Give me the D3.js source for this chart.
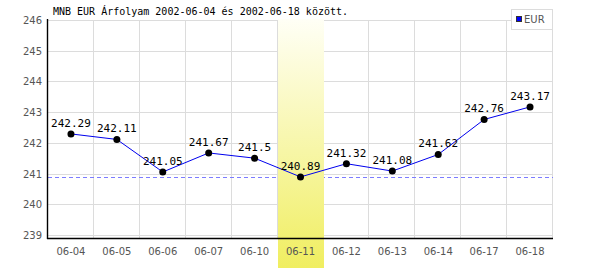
<!DOCTYPE html>
<html lang="hu">
  <head>
    <meta charset="UTF-8" />
    <title>MNB EUR Árfolyam</title>
    <script src="https://d3js.org/d3.v7.min.js"></script>
    <style>
      body {
        margin: 0;
        background: #fff;
      }
      #chart svg {
        display: block;
      }
      .tick-label {
        font-family: "DejaVu Sans", sans-serif;
        font-size: 10px;
        fill: #555;
      }
      .val-label {
        font-family: "DejaVu Sans Mono", monospace;
        font-size: 11px;
        fill: #000;
      }
      .title {
        font-family: "DejaVu Sans Mono", monospace;
        font-size: 10px;
        fill: #000;
      }
    </style>
  </head>
  <body>
    <div id="chart"></div>
    <script>
      // adatok
      const dates = ["06-04", "06-05", "06-06", "06-07", "06-10", "06-11", "06-12", "06-13", "06-14", "06-17", "06-18"];
      const rates = [242.29, 242.11, 241.05, 241.67, 241.5, 240.89, 241.32, 241.08, 241.62, 242.76, 243.17];
      const yTicks = [239, 240, 241, 242, 243, 244, 245, 246];
      const highlightDate = "06-11";
      const titleText = "MNB EUR Árfolyam 2002-06-04 és 2002-06-18 között.";
      const seriesName = "EUR";

      const width = 600,
        height = 270;
      const plotLeft = 48,
        plotRight = 553,
        plotTop = 20,
        plotBottom = 238;

      const svg = d3
        .select("#chart")
        .append("svg")
        .attr("width", width)
        .attr("height", height);

      const x = d3.scaleBand().domain(dates).range([plotLeft, plotRight]);
      // 246 -> felső szél, 239 -> kb. 235
      const y = d3.scaleLinear().domain([238.9, 246]).range([plotBottom, plotTop]);

      const defs = svg.append("defs");
      const grad = defs
        .append("linearGradient")
        .attr("id", "hl")
        .attr("x1", 0)
        .attr("y1", 0)
        .attr("x2", 0)
        .attr("y2", 1);
      grad.append("stop").attr("offset", "0%").attr("stop-color", "#fffff6");
      grad.append("stop").attr("offset", "100%").attr("stop-color", "#f0ee60");

      // rács
      svg
        .append("g")
        .selectAll("line")
        .data(yTicks)
        .join("line")
        .attr("x1", plotLeft)
        .attr("x2", plotRight)
        .attr("y1", (d) => Math.round(y(d)) + 0.5)
        .attr("y2", (d) => Math.round(y(d)) + 0.5)
        .attr("stroke", "#dcdcdc");

      svg
        .append("g")
        .selectAll("line")
        .data(dates)
        .join("line")
        .attr("x1", (d) => Math.round(x(d) + x.bandwidth()) - 0.5)
        .attr("x2", (d) => Math.round(x(d) + x.bandwidth()) - 0.5)
        .attr("y1", plotTop)
        .attr("y2", plotBottom)
        .attr("stroke", "#dcdcdc");

      // minimum szaggatott vonal
      const minVal = d3.min(rates);
      svg
        .append("line")
        .attr("x1", plotLeft)
        .attr("x2", plotRight)
        .attr("y1", Math.round(y(minVal)) + 0.5)
        .attr("y2", Math.round(y(minVal)) + 0.5)
        .attr("stroke", "#7c7cff")
        .attr("stroke-dasharray", "4,3");

      // kiemelt nap
      svg
        .append("rect")
        .attr("x", Math.round(x(highlightDate)))
        .attr("y", plotTop - 1)
        .attr("width", Math.round(x.bandwidth()))
        .attr("height", 268 - plotTop + 1)
        .attr("fill", "url(#hl)");

      // tengelyek
      svg
        .append("line")
        .attr("x1", plotLeft - 0.5)
        .attr("x2", plotLeft - 0.5)
        .attr("y1", plotTop - 1)
        .attr("y2", plotBottom + 1)
        .attr("stroke", "#000")
        .attr("stroke-width", 1.4);
      svg
        .append("line")
        .attr("x1", plotLeft - 1)
        .attr("x2", plotRight)
        .attr("y1", plotBottom + 0.5)
        .attr("y2", plotBottom + 0.5)
        .attr("stroke", "#000")
        .attr("stroke-width", 1.4);

      svg
        .append("g")
        .selectAll("text")
        .data(yTicks)
        .join("text")
        .attr("class", "tick-label")
        .attr("x", plotLeft - 6)
        .attr("y", (d) => y(d) + 4)
        .attr("text-anchor", "end")
        .text((d) => d);

      svg
        .append("g")
        .selectAll("text")
        .data(dates)
        .join("text")
        .attr("class", "tick-label")
        .attr("x", (d) => x(d) + x.bandwidth() / 2)
        .attr("y", plotBottom + 17)
        .attr("text-anchor", "middle")
        .text((d) => d);

      // vonal és pontok
      const pts = dates.map((d, i) => ({ date: d, value: rates[i] }));
      const line = d3
        .line()
        .x((d) => x(d.date) + x.bandwidth() / 2)
        .y((d) => y(d.value));

      svg
        .append("path")
        .datum(pts)
        .attr("d", line)
        .attr("fill", "none")
        .attr("stroke", "#0000ee")
        .attr("stroke-width", 1);

      svg
        .append("g")
        .selectAll("circle")
        .data(pts)
        .join("circle")
        .attr("cx", (d) => x(d.date) + x.bandwidth() / 2)
        .attr("cy", (d) => y(d.value))
        .attr("r", 3.5)
        .attr("fill", "#000");

      svg
        .append("g")
        .selectAll("text")
        .data(pts)
        .join("text")
        .attr("class", "val-label")
        .attr("x", (d) => x(d.date) + x.bandwidth() / 2)
        .attr("y", (d) => y(d.value) - 7)
        .attr("text-anchor", "middle")
        .text((d) => d.value);

      // cím
      svg
        .append("text")
        .attr("class", "title")
        .attr("x", 53)
        .attr("y", 15)
        .text(titleText);

      // jelmagyarázat
      const lg = svg.append("g").attr("transform", "translate(511,9)");
      lg.append("rect")
        .attr("x", 0.5)
        .attr("y", 0.5)
        .attr("width", 41)
        .attr("height", 20)
        .attr("fill", "#fff")
        .attr("stroke", "#dcdcdc");
      lg.append("rect")
        .attr("x", 5.5)
        .attr("y", 7.5)
        .attr("width", 5)
        .attr("height", 5)
        .attr("fill", "#0000ff")
        .attr("stroke", "#333");
      lg.append("text")
        .attr("class", "tick-label")
        .attr("x", 13)
        .attr("y", 14)
        .text(seriesName);
    </script>
  </body>
</html>
